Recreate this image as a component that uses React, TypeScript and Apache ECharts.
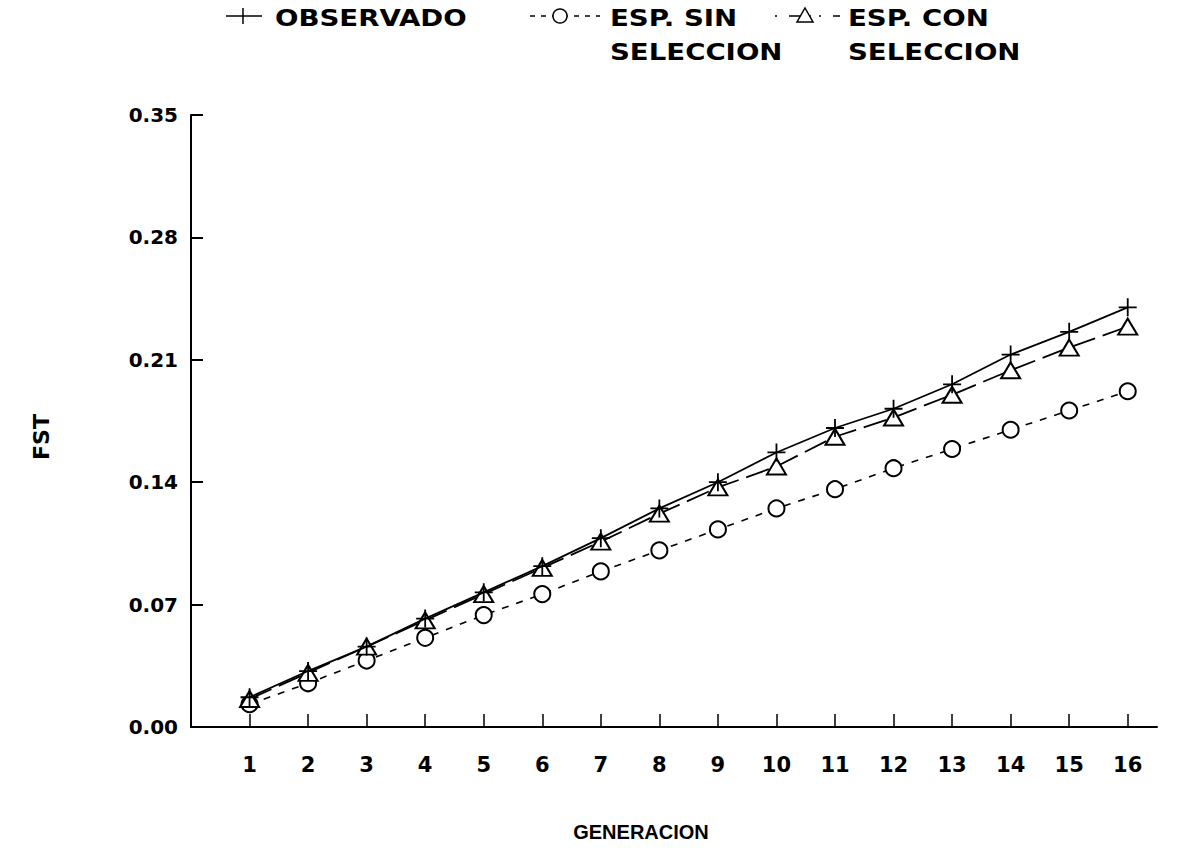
import React, { useEffect, useRef } from "react";
import * as echarts from "echarts";

const generaciones = [1, 2, 3, 4, 5, 6, 7, 8, 9, 10, 11, 12, 13, 14, 15, 16];
const observado = [0.017, 0.032, 0.046, 0.062, 0.077, 0.092, 0.108, 0.125, 0.140, 0.157, 0.171, 0.182, 0.196, 0.213, 0.226, 0.240];
const espSinSeleccion = [0.013, 0.025, 0.038, 0.051, 0.064, 0.076, 0.089, 0.101, 0.113, 0.125, 0.136, 0.148, 0.159, 0.170, 0.181, 0.192];
const espConSeleccion = [0.016, 0.031, 0.046, 0.061, 0.076, 0.091, 0.106, 0.122, 0.137, 0.149, 0.166, 0.177, 0.190, 0.204, 0.217, 0.229];
const yTicks = [0, 0.07, 0.14, 0.21, 0.28, 0.35];
const seriesNames = ["OBSERVADO", "ESP. SIN SELECCION", "ESP. CON SELECCION"];

const FONT = "'DejaVu Sans', 'Liberation Sans', Arial, sans-serif";
const FONT2 = "'Liberation Sans', Arial, sans-serif";
const PLUS = "path://M-1,-10 L1,-10 L1,-1 L10,-1 L10,1 L1,1 L1,10 L-1,10 L-1,1 L-10,1 L-10,-1 L-1,-1 Z";

export default function App() {
  const ref = useRef<HTMLDivElement>(null);
  useEffect(() => {
    if (!ref.current) return;
    const chart = echarts.init(ref.current, undefined, { renderer: "svg" });
    const legendText = (text: string, x: number, y: number) => ({
      type: "text",
      x,
      y,
      scaleX: 1.2,
      style: {
        text,
        x: 0,
        y: 0,
        fill: "#000",
        font: `bold 23px ${FONT}`,
        textAlign: "left",
        textVerticalAlign: "middle",
      },
    });
    const option: any = {
      animation: false,
      backgroundColor: "#fff",
      grid: { left: 191, right: 30, top: 115, bottom: 124, containLabel: false },
      xAxis: {
        type: "value",
        min: 0,
        max: 16.5,
        interval: 1,
        axisLine: { show: true, lineStyle: { color: "#000", width: 2 } },
        axisTick: { show: true, inside: true, length: 13, lineStyle: { color: "#000", width: 1.5 }, customValues: generaciones },
        axisLabel: {
          customValues: generaciones,
          formatter: (v: number) => (generaciones.indexOf(v) >= 0 ? String(v) : ""),
          color: "#000",
          fontFamily: FONT,
          fontWeight: "bold",
          fontSize: 21,
          margin: 27,
        },
        splitLine: { show: false },
      },
      yAxis: {
        type: "value",
        min: 0,
        max: 0.35,
        interval: 0.07,
        axisLine: { show: true, lineStyle: { color: "#000", width: 2 } },
        axisTick: { show: true, inside: true, length: 12, lineStyle: { color: "#000", width: 2 }, customValues: yTicks },
        axisLabel: {
          customValues: yTicks,
          formatter: (v: number) => v.toFixed(2),
          color: "#000",
          fontFamily: FONT,
          fontWeight: "bold",
          fontSize: 20,
          margin: 13,
        },
        splitLine: { show: false },
      },
      series: [
        {
          name: seriesNames[1],
          type: "line",
          data: generaciones.map((g, i) => [g, espSinSeleccion[i]]),
          symbol: "emptyCircle",
          symbolSize: 16,
          showAllSymbol: true,
          itemStyle: { color: "#000", borderColor: "#000", borderWidth: 1.6 },
          lineStyle: { color: "#000", width: 1.6, type: [7, 8] },
          z: 2,
        },
        {
          name: seriesNames[2],
          type: "line",
          data: generaciones.map((g, i) => [g, espConSeleccion[i]]),
          symbol: "emptyTriangle",
          symbolSize: [19, 16],
          showAllSymbol: true,
          itemStyle: { color: "#000", borderColor: "#000", borderWidth: 1.8 },
          lineStyle: { color: "#000", width: 1.8, type: [24, 8] },
          z: 3,
        },
        {
          name: seriesNames[0],
          type: "line",
          data: generaciones.map((g, i) => [g, observado[i]]),
          symbol: PLUS,
          symbolSize: 18,
          showAllSymbol: true,
          itemStyle: { color: "#000" },
          lineStyle: { color: "#000", width: 1.8 },
          z: 4,
        },
      ],
      graphic: [
        // legend: observado
        { type: "line", shape: { x1: 226, y1: 16, x2: 262, y2: 16 }, style: { stroke: "#000", lineWidth: 1.5 } },
        { type: "line", shape: { x1: 243, y1: 8, x2: 243, y2: 24 }, style: { stroke: "#000", lineWidth: 1.5 } },
        legendText("OBSERVADO", 275, 18),
        // legend: sin seleccion
        { type: "line", shape: { x1: 530, y1: 16, x2: 600, y2: 16 }, style: { stroke: "#000", lineWidth: 1.5, lineDash: [5, 6] } },
        { type: "circle", shape: { cx: 560, cy: 16, r: 7 }, style: { fill: "#fff", stroke: "#000", lineWidth: 1.5 } },
        legendText("ESP. SIN", 610, 18),
        legendText("SELECCION", 610, 52),
        // legend: con seleccion
        { type: "line", shape: { x1: 775, y1: 16, x2: 840, y2: 16 }, style: { stroke: "#000", lineWidth: 1.5, lineDash: [2, 12, 22, 8] } },
        { type: "polygon", shape: { points: [[805, 8], [813, 22], [797, 22]] }, style: { fill: "#fff", stroke: "#000", lineWidth: 1.5 } },
        legendText("ESP. CON", 848, 18),
        legendText("SELECCION", 848, 52),
        // axis titles
        {
          type: "text",
          x: 41,
          y: 437,
          rotation: Math.PI / 2,
          style: { text: "FST", x: 0, y: 0, fill: "#000", font: `bold 22px ${FONT}`, textAlign: "center", textVerticalAlign: "middle" },
        },
        {
          type: "text",
          x: 641,
          y: 832,
          style: { text: "GENERACION", x: 0, y: 0, fill: "#000", font: `bold 20px ${FONT2}`, textAlign: "center", textVerticalAlign: "middle" },
        },
      ],
    };
    chart.setOption(option);
    return () => chart.dispose();
  }, []);
  return <div ref={ref} style={{ position: "fixed", left: 0, top: 0, width: 1187, height: 851, background: "#fff" }} />;
}
